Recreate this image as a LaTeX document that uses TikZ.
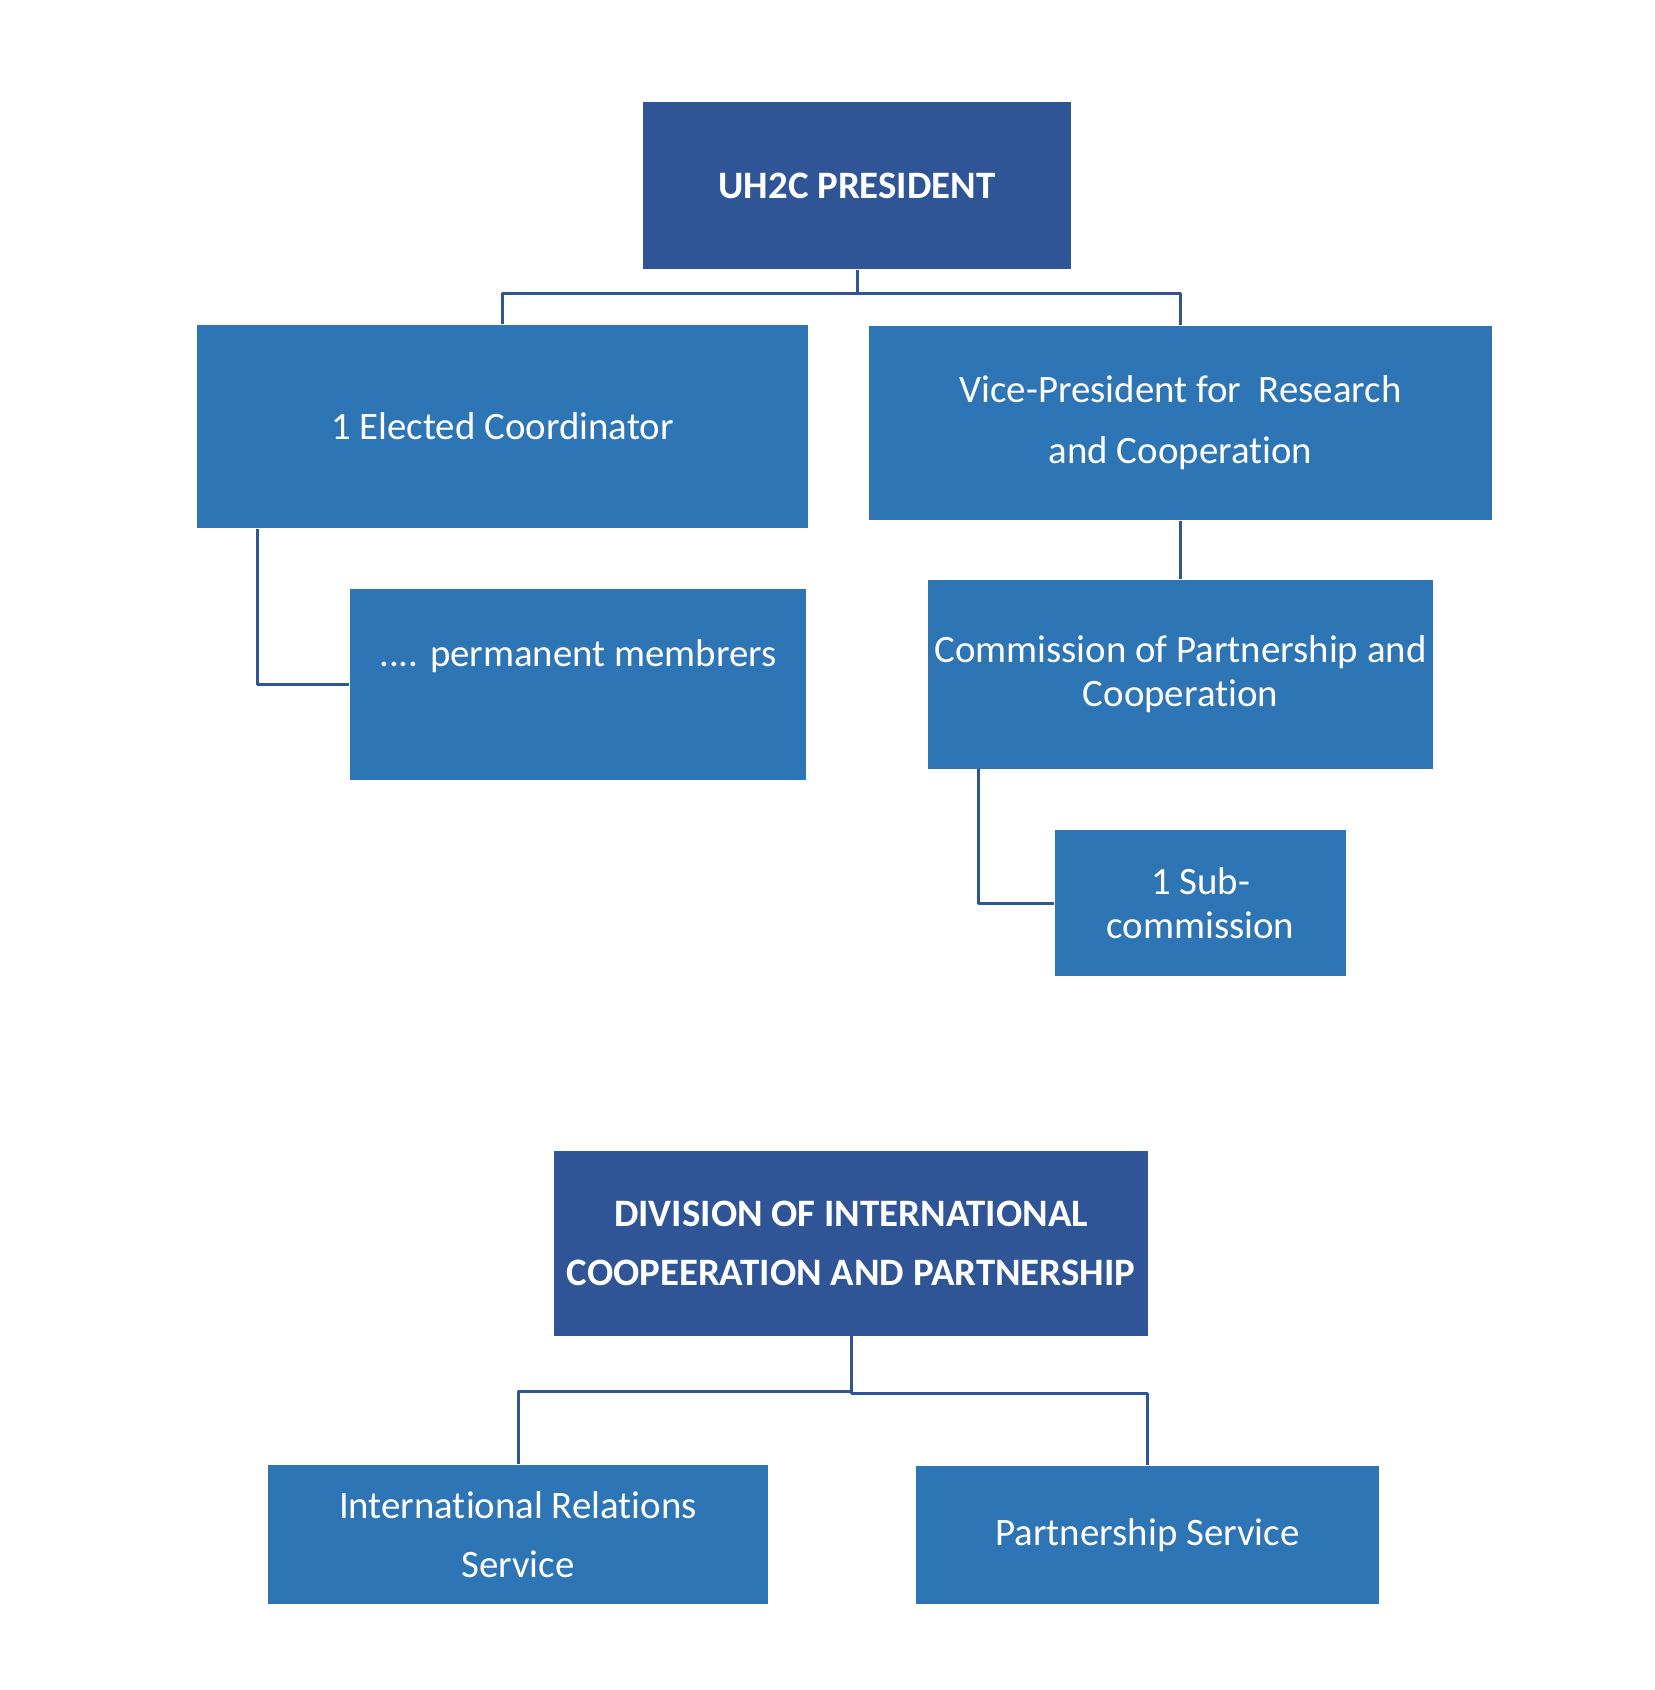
\documentclass[tikz,border=0pt]{standalone}
\usepackage{fontspec}
\setmainfont{Carlito}[Ligatures=NoCommon]
\definecolor{headblue}{RGB}{47,85,151}
\definecolor{unitblue}{RGB}{46,117,182}
\begin{document}
\begin{tikzpicture}[x=0.1mm, y=-0.1mm, line join = round,
	head/.style={fill=headblue, text=white, inner sep=0pt, align=center, font=\fontsize{11.05}{17}\selectfont\bfseries},
	unit/.style={fill=unitblue, text=white, inner sep=0pt, align=center, font=\fontsize{11.05}{17.4}\selectfont},
	tight/.style={font=\fontsize{11.05}{12.4}\selectfont},
	link/.style={draw=headblue, line width=0.3mm}]
	\useasboundingbox (0,0) rectangle (1654,1690);
	% upper chart
	\node[head, minimum width=42.8mm, minimum height=16.7mm] (pres) at (857,185.5) {UH2C PRESIDENT};
	\node[unit, minimum width=61.1mm, minimum height=20.3mm] (coord) at (502.5,426.5) {1 Elected Coordinator};
	\node[unit, minimum width=62.3mm, minimum height=19.45mm] (vp) at (1180.5,422.75) {Vice-President for~ Research\\and Cooperation};
	\node[unit, minimum width=45.6mm, minimum height=19.1mm] (perm) at (578,684) {.... permanent membrers\\\mbox{}};
	\node[unit, tight, minimum width=50.5mm, minimum height=18.86mm] (comm) at (1180.5,674.3) {Commission of Partnership and\\Cooperation};
	\node[unit, tight, minimum width=29.1mm, minimum height=14.56mm] (sub) at (1200.5,903) {1 Sub-\\commission};
	\draw[link] (pres.south) -- ++(0,24) -| (coord.north);
	\draw[link] (pres.south) -- ++(0,24) -| (vp.north);
	\draw[link] ([xshift=6.15mm]coord.south west) |- (perm.west);
	\draw[link] (vp.south) -- (comm.north);
	\draw[link] ([xshift=5.1mm]comm.south west) |- (sub.west);
	% lower chart
	\node[head, minimum width=59.4mm, minimum height=18.46mm] (div) at (851,1243.3) {DIVISION OF INTERNATIONAL\\COOPEERATION AND PARTNERSHIP};
	\node[unit, font=\fontsize{11.05}{16.8}\selectfont, minimum width=50mm, minimum height=13.9mm] (irs) at (518,1534.5) {International Relations\\Service};
	\node[unit, minimum width=46.3mm, minimum height=13.8mm] (ps) at (1147.5,1535) {Partnership Service};
	\draw[link] (div.south) -- ++(0,55.5) -| (irs.north);
	\draw[link] (div.south) -- ++(0,57) -| (ps.north);
\end{tikzpicture}
\end{document}
